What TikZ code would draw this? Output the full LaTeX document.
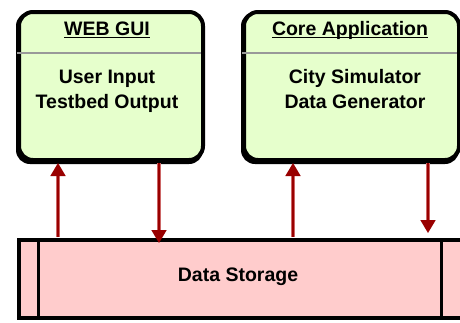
\documentclass[tikz,border=0pt]{standalone}
\usepackage{fontspec}
\setmainfont{Liberation Sans}
\usetikzlibrary{arrows.meta}
\definecolor{boxgreen}{HTML}{E6FFCC}
\definecolor{storepink}{HTML}{FFCCCC}
\definecolor{flowred}{HTML}{990000}
\definecolor{flowedge}{HTML}{CC6666}
\tikzset{
  panel/.style={draw=black, line width=4pt, fill=boxgreen, rounded corners=14pt,
    inner sep=0pt, minimum width=184pt, minimum height=148pt},
  panelshadow/.style={fill=black, rounded corners=14pt},
  label/.style={font=\bfseries\fontsize{19.5}{22}\selectfont, inner sep=0pt, anchor=base},
  title/.style={label, font=\fontsize{19.5}{22}\selectfont\bfseries},
  uline/.style={line width=1.3pt},
  sep/.style={draw=black!40, line width=1.5pt},
  flowedge/.style={draw=flowedge, line width=4pt},
  flow/.style={draw=flowred, line width=1.8pt,
    -{Triangle[width=15pt,length=13pt]}},
}
\begin{document}
\begin{tikzpicture}[x=1pt,y=-1pt]
  \useasboundingbox (0,0) rectangle (460,322);
  % background
  \fill[white] (0,0) rectangle (460,322);

  % storage bar
  \node[draw=black, line width=4pt, fill=storepink, inner sep=0pt,
        minimum width=460pt, minimum height=78pt, anchor=north west] (store) at (17,238) {};
  \draw[line width=3pt] (38,238) -- (38,316);
  \draw[line width=3pt] (441,238) -- (441,316);
  \node[label] (storetext) at (238,281) {Data Storage};

  % web gui panel
  \fill[panelshadow] (16,12) rectangle (203,164);
  \node[panel, anchor=north west] (gui) at (17,10) {};
  \draw[sep] (17,53) -- (201,53);
  \node[title] (guititle) at (107,35) {WEB GUI};
  \draw[uline] (guititle.base west) ++(0,2.5) -- ([yshift=-2.5pt]guititle.base east);
  \node[label] (guibody1) at (107,83) {User Input};
  \node[label] (guibody2) at (107,108) {Testbed Output};

  % core application panel
  \fill[panelshadow] (241,12) rectangle (459,164);
  \node[panel, anchor=north west, minimum width=215pt] (core) at (242,10) {};
  \draw[sep] (242,53) -- (457,53);
  \node[title] (coretitle) at (350,35) {Core Application};
  \draw[uline] (coretitle.base west) ++(0,2.5) -- ([yshift=-2.5pt]coretitle.base east);
  \node[label] (corebody1) at (355,83) {City Simulator};
  \node[label] (corebody2) at (355,108) {Data Generator};

  % data flows between panels and storage (yshift is in page direction: + is up)
  \foreach \x in {58,159,293,428}{
    \coordinate (top\x) at (\x,163);
    \coordinate (bot\x) at (\x,237);
  }
  % shaft halos stop where the heads begin
  \draw[flowedge] (bot58) -- ([yshift=-13pt]top58);
  \draw[flow] (bot58) -- (top58);
  \draw[flowedge] (top159) -- ([yshift=7pt]bot159);
  \draw[flow] (top159) -- ([yshift=-6pt]bot159);
  \draw[flowedge] (bot293) -- ([yshift=-13pt]top293);
  \draw[flow] (bot293) -- (top293);
  \draw[flowedge] (top428) -- ([yshift=17pt]bot428);
  \draw[flow] (top428) -- ([yshift=4pt]bot428);
\end{tikzpicture}
\end{document}
